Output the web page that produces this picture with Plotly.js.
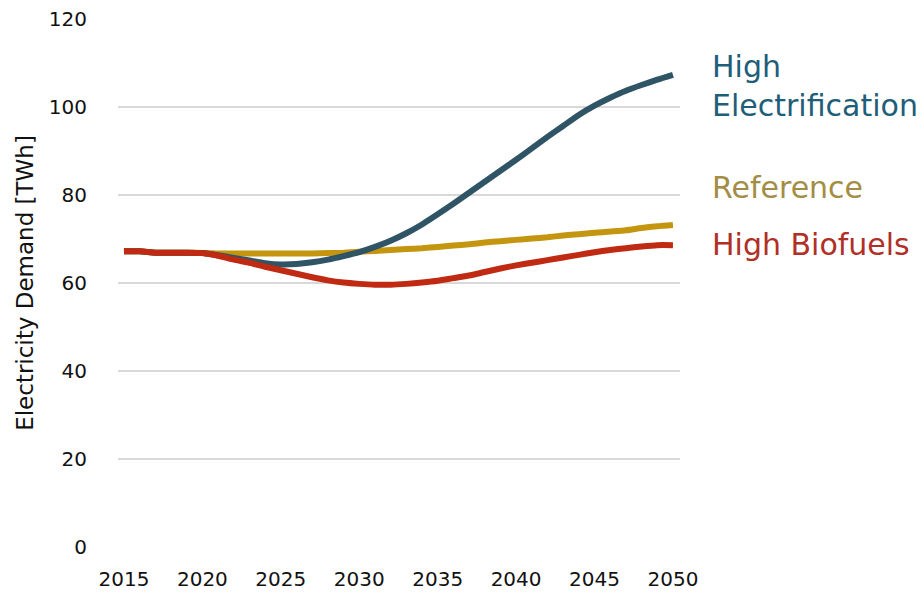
<!DOCTYPE html>
<html>
<head>
<meta charset="utf-8">
<script src="https://cdn.plot.ly/plotly-3.0.1.min.js"></script>
<style>html,body{margin:0;padding:0;background:#fff;}#chart{width:924px;height:596px;}</style>
</head>
<body>
<div id="chart"></div>
<script>
const years = [2015,2016,2017,2018,2019,2020,2021,2022,2023,2024,2025,2026,2027,2028,2029,2030,2031,2032,2033,2034,2035,2036,2037,2038,2039,2040,2041,2042,2043,2044,2045,2046,2047,2048,2049,2050];
const highElectrification = [67.2,67.2,66.9,66.9,66.9,66.8,66.3,65.7,65.1,64.5,64.2,64.3,64.7,65.3,66.1,67.0,68.2,69.6,71.3,73.3,75.6,78.0,80.5,83.0,85.5,88.0,90.6,93.2,95.7,98.2,100.3,102.1,103.7,105.0,106.2,107.3];
const reference = [67.2,67.2,66.9,66.9,66.9,66.8,66.7,66.7,66.7,66.7,66.7,66.7,66.7,66.8,66.9,67.1,67.3,67.5,67.7,67.9,68.2,68.5,68.8,69.2,69.5,69.8,70.1,70.4,70.8,71.1,71.4,71.7,72.0,72.5,72.9,73.2];
const highBiofuels = [67.2,67.2,66.9,66.9,66.9,66.8,66.2,65.3,64.6,63.7,62.9,62.1,61.3,60.6,60.1,59.8,59.6,59.6,59.8,60.1,60.5,61.1,61.7,62.5,63.3,64.0,64.6,65.2,65.8,66.4,67.0,67.5,67.9,68.3,68.6,68.6];
const xTicks = [2015,2020,2025,2030,2035,2040,2045,2050];
const yTicks = [0,20,40,60,80,100,120];
const seriesNames = ['High Biofuels','Reference','High Electrification'];
const labelTexts = ['High<br>Electrification','Reference','High Biofuels'];

const FONT = 'DejaVu Sans, Verdana, sans-serif';

const traces = [
  {x: years, y: reference, name: seriesNames[1], mode: 'lines', line: {color: '#c4950f', width: 6, shape: 'spline', smoothing: 0.6}},
  {x: years, y: highElectrification, name: seriesNames[2], mode: 'lines', line: {color: '#2f5466', width: 6, shape: 'spline', smoothing: 0.6}},
  {x: years, y: highBiofuels, name: seriesNames[0], mode: 'lines', line: {color: '#c12a12', width: 6, shape: 'spline', smoothing: 0.6}}
];

const layout = {
  width: 924, height: 596,
  margin: {l: 118, r: 244, t: 19, b: 49},
  paper_bgcolor: '#fff', plot_bgcolor: '#fff',
  showlegend: false,
  font: {family: FONT, color: '#111'},
  xaxis: {
    range: [2014.62, 2050.45], tickvals: xTicks, ticktext: xTicks.map(String),
    showgrid: false, zeroline: false, showline: false,
    ticks: 'outside', ticklen: 14, tickcolor: 'rgba(0,0,0,0)',
    tickfont: {size: 20, color: '#111', family: FONT}
  },
  yaxis: {
    range: [0, 120], tickvals: yTicks, ticktext: yTicks.map(String),
    showgrid: true, gridcolor: '#d9d9d9', gridwidth: 1.5, zeroline: false, showline: false,
    ticks: 'outside', ticklen: 26, tickcolor: 'rgba(0,0,0,0)',
    tickfont: {size: 20, color: '#111', family: FONT},
    title: {text: 'Electricity Demand [TWh]', font: {size: 23, color: '#111', family: FONT}, standoff: 8}
  },
  annotations: [
    {xref: 'paper', yref: 'paper', x: 1.053, y: (547-86)/528, xanchor: 'left', yanchor: 'middle', align: 'left', showarrow: false, text: labelTexts[0], font: {family: FONT, size: 30, color: '#1f5e78'}},
    {xref: 'paper', yref: 'paper', x: 1.053, y: (547-187)/528, xanchor: 'left', yanchor: 'middle', align: 'left', showarrow: false, text: labelTexts[1], font: {family: FONT, size: 30, color: '#a38d45'}},
    {xref: 'paper', yref: 'paper', x: 1.053, y: (547-244)/528, xanchor: 'left', yanchor: 'middle', align: 'left', showarrow: false, text: labelTexts[2], font: {family: FONT, size: 30, color: '#b02f27'}}
  ]
};

Plotly.newPlot('chart', traces, layout, {displayModeBar: false, staticPlot: true});
</script>
</body>
</html>
